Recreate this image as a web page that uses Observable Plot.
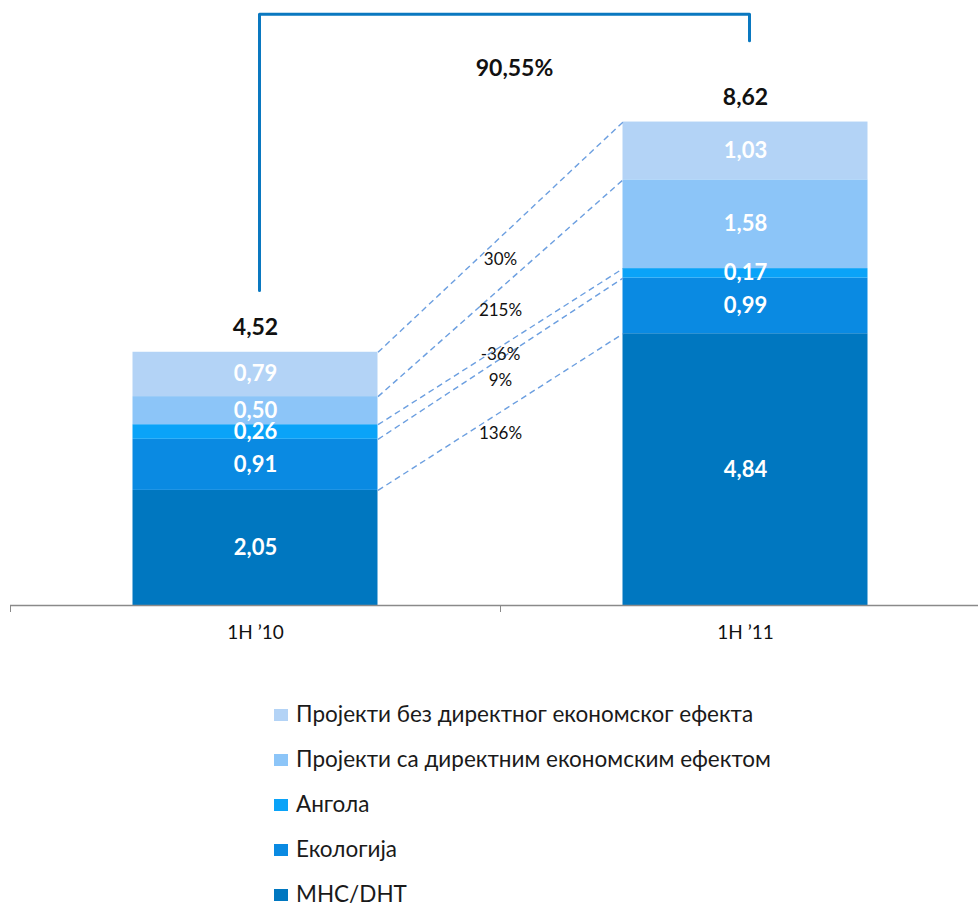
<!DOCTYPE html>
<html><head><meta charset="utf-8">
<script src="https://cdn.jsdelivr.net/npm/d3@7"></script>
<script src="https://cdn.jsdelivr.net/npm/@observablehq/plot@0.6"></script>
<style>
body{margin:0;background:#fff;font-family:Lato,"Open Sans",sans-serif;}
#wrap{position:relative;width:978px;height:907px;overflow:hidden;}
#legend{position:absolute;left:274px;top:692px;}
.item{display:flex;align-items:center;height:45px;font-size:22.5px;line-height:1;color:#1a1a1a;}
.sw{width:14px;height:12px;margin-right:8px;flex:none;}
</style></head><body>
<div id="wrap"><div id="chart"></div><div id="legend"></div></div>
<script>
// ---- data ----
const periods = ["1H ’10", "1H ’11"];
const seriesNames = [
  "МНС/DHT",
  "Екологија",
  "Ангола",
  "Пројекти са директним економским ефектом",
  "Пројекти без директног економског ефекта"
];
const values2010 = [2.05, 0.91, 0.26, 0.50, 0.79];
const values2011 = [4.84, 0.99, 0.17, 1.58, 1.03];
const totals = [4.52, 8.62];
const growthLabels = ["136%", "9%", "-36%", "215%", "30%"];
const totalGrowthLabel = "90,55%";
const colors = ["#0077c0", "#0a8ae2", "#0aa3f8", "#8cc5f8", "#b3d3f6"];

// ---- build tables ----
const fmt = v => v.toFixed(2).replace(".", ",");
const rows = [];
[values2010, values2011].forEach((vals, p) => {
  let acc = 0;
  vals.forEach((v, i) => {
    rows.push({p, series: seriesNames[i], value: v, y1: acc, y2: acc + v});
    acc += v;
  });
});
const half = 0.25; // half bar width in band units
const links = seriesNames.map((s, i) => {
  const a = rows.find(r => r.p === 0 && r.series === s);
  const b = rows.find(r => r.p === 1 && r.series === s);
  return {series: s, ya: a.y2, yb: b.y2, label: growthLabels[i]};
});
// label placement: just below each line's midpoint, nudged apart to avoid overlaps
const labelOffset = 0.39, minGap = 0.46;
let prev = -Infinity;
links.forEach(l => {
  let y = (l.ya + l.yb) / 2 - labelOffset;
  if (y < prev + minGap) y = prev + minGap;
  l.ly = y; prev = y;
});
const totalRows = totals.map((t, p) => ({p, t}));
const bracket = [
  {x: 0, y: totals[0] + 1.09},
  {x: 0, y: totals[1] + 1.91},
  {x: 1, y: totals[1] + 1.91},
  {x: 1, y: totals[1] + 1.44}
];

const chart = Plot.plot({
  width: 978,
  height: 660,
  marginLeft: 10, marginRight: 0, marginTop: 0, marginBottom: 55,
  style: {fontFamily: "Lato, 'Open Sans', sans-serif", overflow: "visible"},
  x: {domain: [-0.5, 1.5], range: [10, 990], axis: null},
  y: {domain: [0, 10], range: [605, 43.5], axis: null},
  color: {domain: seriesNames, range: colors},
  marks: [
    Plot.rect(rows, {x1: d => d.p - half, x2: d => d.p + half, y1: "y1", y2: "y2", fill: "series"}),
    Plot.link(links, {x1: half, x2: 1 - half, y1: "ya", y2: "yb", stroke: "#6c9fe0", strokeWidth: 1.4, strokeDasharray: "6,4"}),
    Plot.text(links, {x: 0.5, y: "ly", text: "label", fontSize: 17, fill: "#111"}),
    Plot.text(rows, {x: "p", y: d => (d.y1 + d.y2) / 2, text: d => fmt(d.value), fill: "white", fontWeight: "bold", fontSize: 22}),
    Plot.text(totalRows, {x: "p", y: "t", dy: -24, text: d => fmt(d.t), fill: "#111", fontWeight: "bold", fontSize: 23}),
    Plot.line(bracket, {x: "x", y: "y", dx: 4, stroke: "#0a78c0", strokeWidth: 3, curve: "linear"}),
    Plot.text([totalGrowthLabel], {x: 0.5, y: totals[1] + 0.95, dx: 14, text: d => d, fill: "#111", fontWeight: "bold", fontSize: 23}),
    Plot.ruleY([0], {x1: -0.5, x2: 1.5, stroke: "#8a8a8a", strokeWidth: 1.5}),
    Plot.axisX([-0.5, 0.5, 1.5], {tickSize: 7, tickFormat: () => "", stroke: "#8a8a8a"}),
    Plot.axisX([0, 1], {tickSize: 0, tickPadding: 20, tickFormat: i => periods[i], fontSize: 19, fill: "#111"})
  ]
});
document.getElementById("chart").appendChild(chart);

// legend (top to bottom reversed order)
const legend = document.getElementById("legend");
seriesNames.map((s, i) => ({s, c: colors[i]})).reverse().forEach(({s, c}) => {
  const item = document.createElement("div");
  item.className = "item";
  item.innerHTML = `<span class="sw" style="background:${c}"></span><span>${s}</span>`;
  legend.appendChild(item);
});
</script>
</body></html>
